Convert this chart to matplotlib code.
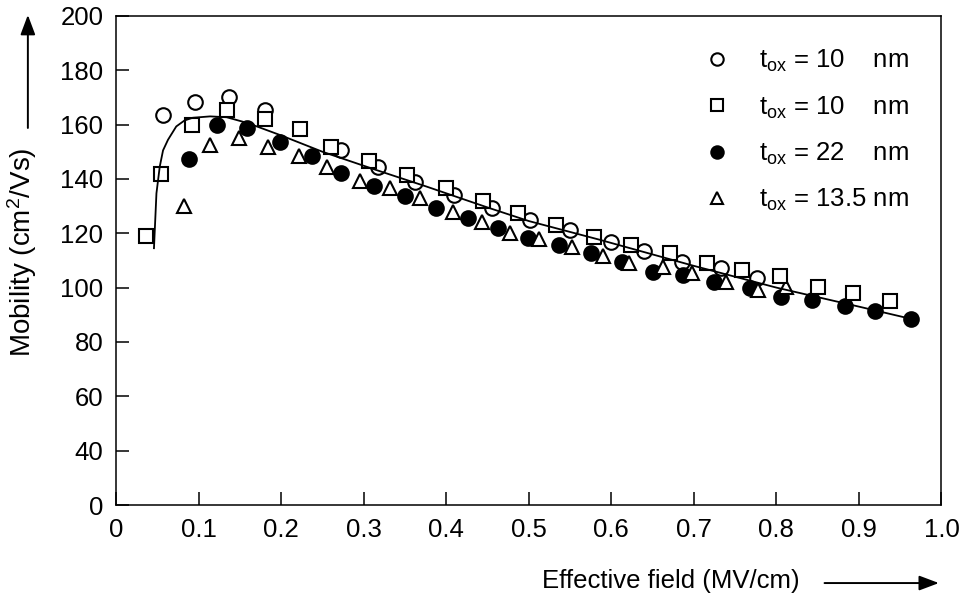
"""Effective mobility vs effective field, four oxide thicknesses, with fitted curve."""
import matplotlib
matplotlib.use("Agg")
import matplotlib.pyplot as plt
from matplotlib.patches import FancyArrowPatch

FONT = "Liberation Sans"
FS = 18.5
plt.rcParams["font.family"] = FONT
plt.rcParams["mathtext.fontset"] = "custom"
plt.rcParams["mathtext.rm"] = FONT
plt.rcParams["mathtext.it"] = FONT

# ---------------------------------------------------------------- data
# open circles, tox = 10 nm
circ_x = [0.057, 0.096, 0.137, 0.180, 0.273, 0.317, 0.362, 0.410, 0.455,
          0.501, 0.550, 0.600, 0.640, 0.686, 0.733, 0.777]
circ_y = [163.6, 168.2, 170.3, 165.4, 150.7, 144.5, 139.0, 134.1, 129.2,
          124.9, 121.2, 116.6, 113.3, 109.6, 107.1, 103.6]

# open squares, tox = 10 nm
sq_x = [0.036, 0.054, 0.092, 0.135, 0.180, 0.223, 0.261, 0.307, 0.352,
        0.400, 0.445, 0.487, 0.533, 0.579, 0.624, 0.671, 0.716, 0.758,
        0.804, 0.850, 0.893, 0.938]
sq_y = [119.1, 141.8, 159.9, 165.4, 162.1, 158.3, 151.9, 146.6, 141.5,
        136.6, 131.7, 127.4, 123.1, 118.5, 115.7, 112.9, 109.2, 106.5,
        104.1, 100.4, 97.9, 95.1]

# filled circles, tox = 22 nm
dot_x = [0.088, 0.122, 0.159, 0.199, 0.238, 0.272, 0.312, 0.350, 0.388,
         0.427, 0.463, 0.499, 0.537, 0.575, 0.613, 0.650, 0.687, 0.725,
         0.768, 0.806, 0.843, 0.883, 0.920, 0.963]
dot_y = [147.2, 159.9, 158.9, 153.4, 148.5, 142.3, 137.4, 133.8, 129.2,
         125.5, 121.9, 118.2, 115.7, 112.9, 109.3, 105.9, 104.5, 102.2,
         99.8, 96.7, 95.5, 93.3, 91.4, 88.4]

# open triangles, tox = 13.5 nm
tri_x = [0.082, 0.114, 0.149, 0.184, 0.222, 0.256, 0.295, 0.332, 0.368,
         0.408, 0.443, 0.477, 0.513, 0.552, 0.590, 0.622, 0.663, 0.698,
         0.739, 0.778, 0.812]
tri_y = [130.1, 152.3, 155.2, 151.7, 148.5, 144.5, 139.4, 136.6, 132.9,
         128.0, 124.0, 120.2, 117.8, 114.9, 111.7, 109.0, 107.7, 105.5,
         102.2, 99.2, 100.4]

# fitted curve
fit_x = [0.046, 0.049, 0.053, 0.057, 0.063, 0.073, 0.083, 0.093, 0.114,
         0.134, 0.160, 0.200, 0.250, 0.315, 0.376, 0.450, 0.500, 0.586,
         0.700, 0.800, 0.900, 0.970]
fit_y = [114.5, 134.7, 144.5, 150.5, 154.4, 159.3, 161.5, 162.5, 163.0,
         162.7, 160.5, 156.0, 150.0, 143.3, 137.2, 129.5, 124.5, 117.6,
         108.0, 100.0, 93.0, 88.0]

x_ticks = [0, 0.1, 0.2, 0.3, 0.4, 0.5, 0.6, 0.7, 0.8, 0.9, 1.0]
x_labels = ["0", "0.1", "0.2", "0.3", "0.4", "0.5", "0.6", "0.7", "0.8",
            "0.9", "1.0"]
# broken axis: the bottom tick is labelled 0, 20 is skipped
y_ticks = [20, 40, 60, 80, 100, 120, 140, 160, 180, 200]
y_labels = ["0", "40", "60", "80", "100", "120", "140", "160", "180", "200"]

labels = [r"$\mathrm{t_{ox}}$ = 10    nm", r"$\mathrm{t_{ox}}$ = 10    nm",
          r"$\mathrm{t_{ox}}$ = 22    nm", r"$\mathrm{t_{ox}}$ = 13.5 nm"]

# ---------------------------------------------------------------- plot
fig = plt.figure(figsize=(9.61, 5.98), dpi=100)
ax = fig.add_axes([0.1207, 0.1555, 0.859, 0.818])

mk = dict(linestyle="none", markersize=10.5, markeredgewidth=1.5,
          markeredgecolor="black")
h_circ, = ax.plot(circ_x, circ_y, marker="o", markerfacecolor="white",
                  zorder=2, **mk)
h_dot, = ax.plot(dot_x, dot_y, marker="o", markerfacecolor="black",
                 zorder=3, **mk)
h_tri, = ax.plot(tri_x, tri_y, marker="^", markerfacecolor="white",
                 zorder=4, **mk)
h_sq, = ax.plot(sq_x, sq_y, marker="s", markerfacecolor="white",
                zorder=5, **dict(mk, markersize=9.5))
ax.plot(fit_x, fit_y, color="black", lw=1.3, zorder=6)

ax.set_xlim(0, 1.0)
ax.set_ylim(20, 200)
ax.set_xticks(x_ticks)
ax.set_xticklabels(x_labels)
ax.set_yticks(y_ticks)
ax.set_yticklabels(y_labels)
ax.tick_params(direction="in", length=9.5, width=1.1, labelsize=FS,
               colors="black", pad=9)
for sp in ax.spines.values():
    sp.set_linewidth(1.1)

ax.set_ylabel("Mobility (cm$^2$/Vs)", fontsize=20)
ax.yaxis.set_label_coords(-0.093, 0.517)

ax.legend([h_circ, h_sq, h_dot, h_tri], labels, loc="upper right",
          frameon=False, fontsize=FS, markerscale=0.85,
          handlelength=1.55, handletextpad=0.84, labelspacing=0.78,
          borderaxespad=0.0, borderpad=0.0,
          bbox_to_anchor=(0.96, 0.934))

# x label with arrow to the right, arrow on the y side
fig.text(0.8325, 0.028, "Effective field (MV/cm)", ha="right", va="center",
         fontsize=FS)
fig.add_artist(FancyArrowPatch(
    (0.858, 0.025), (0.977, 0.025), transform=fig.transFigure,
    arrowstyle="-|>,head_length=12,head_width=4.5", color="black", lw=1.4,
    shrinkA=0, shrinkB=0))
fig.add_artist(FancyArrowPatch(
    (0.029, 0.786), (0.029, 0.975), transform=fig.transFigure,
    arrowstyle="-|>,head_length=12,head_width=4.5", color="black", lw=1.4,
    shrinkA=0, shrinkB=0))

fig.savefig("out.png", dpi=100, facecolor="white")
